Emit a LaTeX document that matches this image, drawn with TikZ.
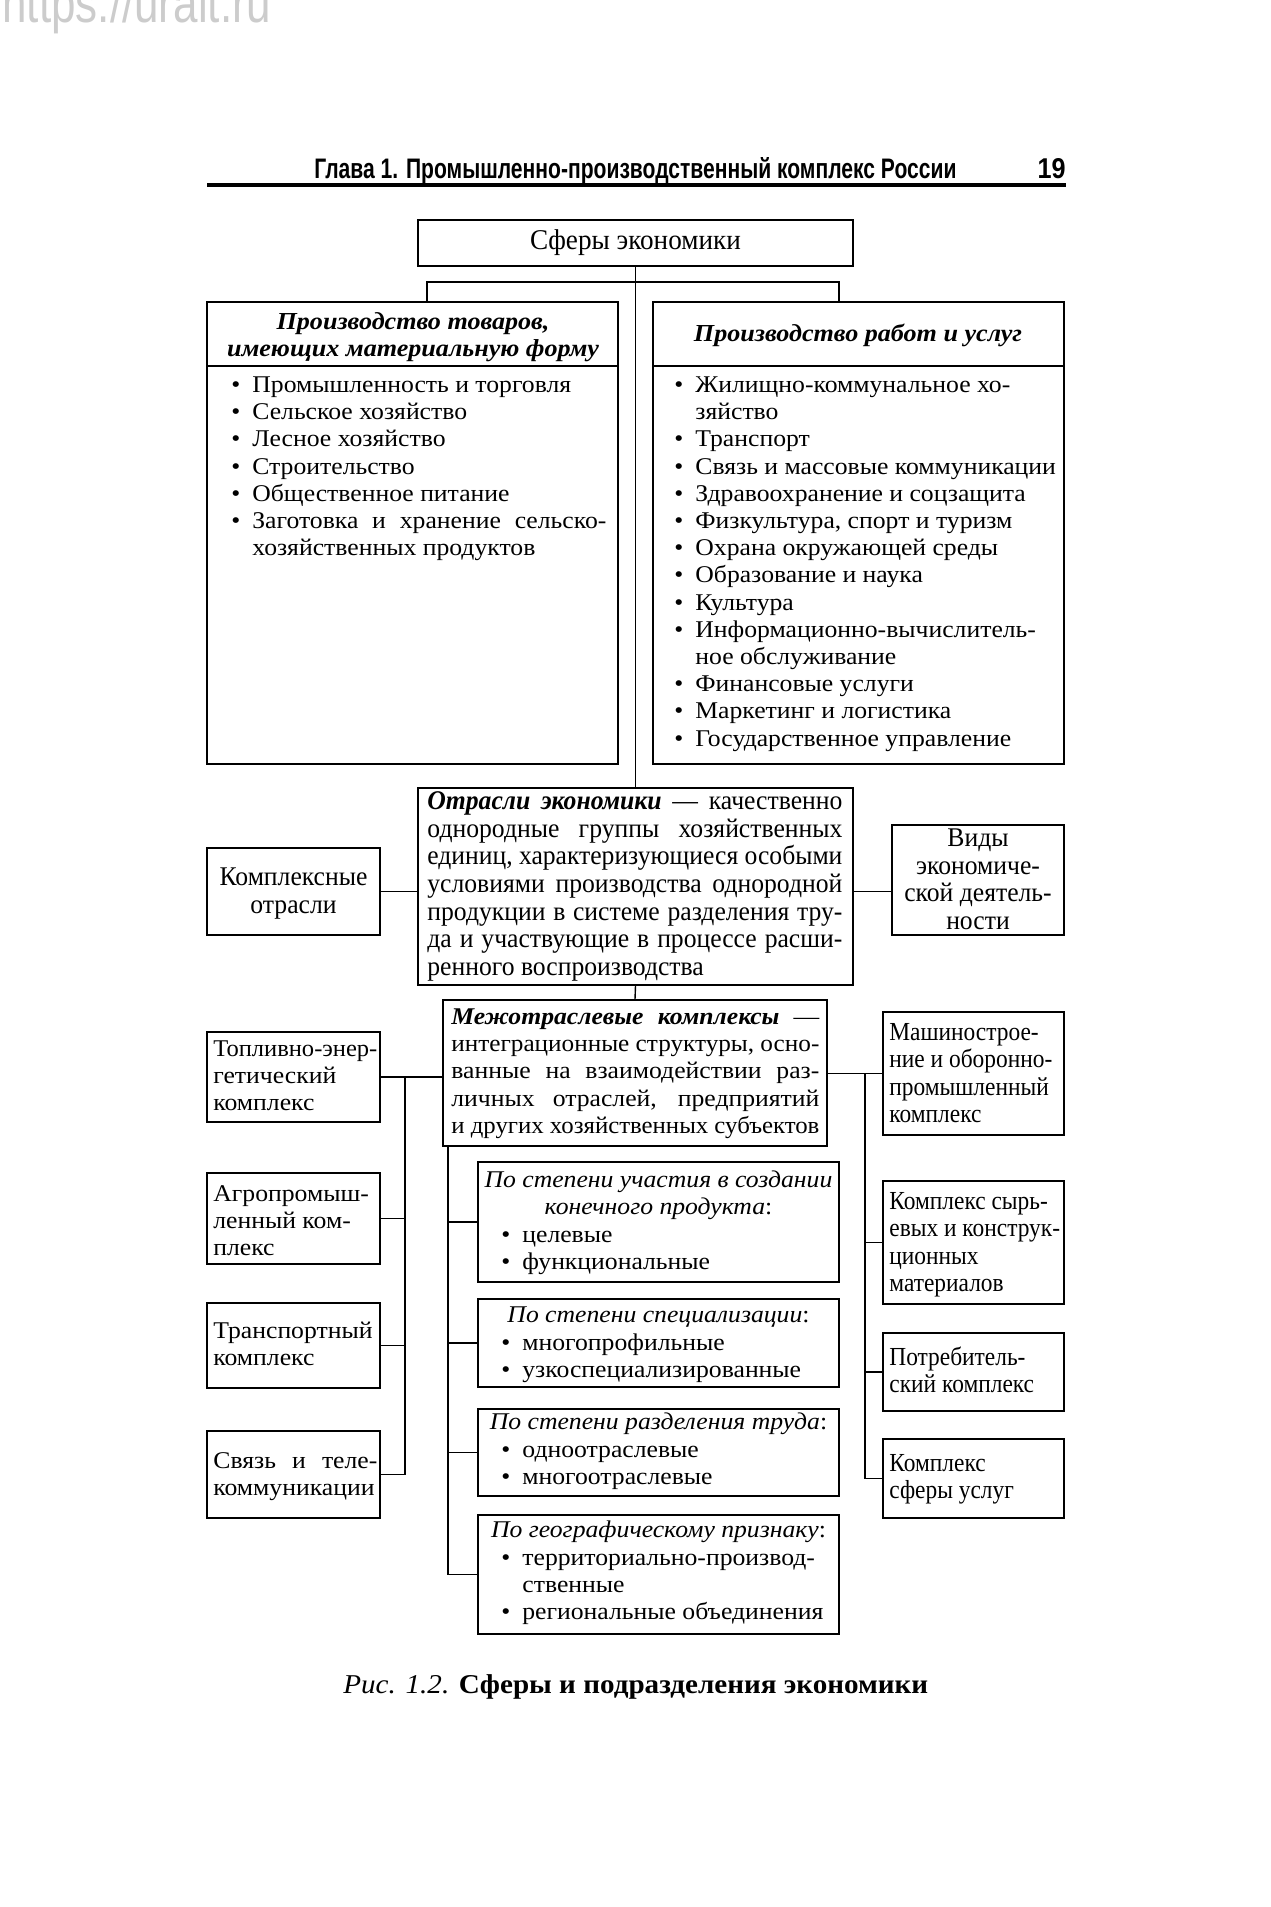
\documentclass[tikz,border=0pt]{standalone}
\usepackage{fontspec}
\usetikzlibrary{fit,calc}
\setmainfont[FakeStretch=1.07]{Liberation Serif}
\newfontfamily\condf[FakeStretch=0.95]{Liberation Serif}
\newfontfamily\condr[FakeStretch=0.9]{Liberation Serif}
\newfontfamily\hdrf[FakeStretch=0.72]{Liberation Sans}
\newfontfamily\wmf[FakeStretch=0.8]{Liberation Sans}
\newcommand\fs{\fontsize{12}{13.6}\selectfont}
\newcommand\fh{\fontsize{12.2}{13.6}\selectfont}
\newcommand\fc{\condf\fontsize{13.5}{13.8}\selectfont}
\newcommand\fr{\condr\fontsize{13}{13.7}\selectfont}
\newcommand\bl{\makebox[10.5pt][l]{•}}
\newcommand\ind{\hspace*{10.5pt}}
\newcommand\jl[2]{\sbox0{#2}\ifdim\wd0>#1\relax\resizebox{#1}{\height}{#2}\else\makebox[#1][s]{#2}\fi}
\begin{document}
\begin{tikzpicture}[x=0.5pt,y=-0.5pt,
  box/.style={draw,line width=0.75pt,inner sep=0pt},
  ln/.style={line width=0.7pt},
  tx/.style={inner sep=0pt,align=left,anchor=north west,font=\fs},
  tc/.style={inner sep=0pt,align=center,anchor=north,font=\fs},
]
\useasboundingbox (0,0) rectangle (1270,1907);
\fill[white] (0,0) rectangle (1270,1907);

% watermark and running head
\node[anchor=base west,inner sep=0pt,font=\wmf\fontsize{27.5}{28}\selectfont,text=gray!40] (wm) at (2,22) {https://urait.ru};
\node[anchor=base west,inner sep=0pt,font=\hdrf\bfseries] (hd) at (314,178) {\resizebox{321pt}{10.5pt}{Глава 1. Промышленно-производственный комплекс России}};
\node[anchor=base east,inner sep=0pt,font=\hdrf\bfseries] (pg) at (1066,178) {\resizebox{14pt}{10pt}{19}};
\draw[line width=2pt] (207,185) -- (1066,185);

% boxes
\node[box,fit={(418,220)(853,266)}] (top) {};
\node[box,fit={(207,302)(618,764)}] (L) {};
\node[box,fit={(653,302)(1064,764)}] (R) {};
\node[box,fit={(418,788)(853,985)}] (Otr) {};
\node[box,fit={(207,848)(380,935)}] (Kom) {};
\node[box,fit={(892,825)(1064,935)}] (Vid) {};
\node[box,fit={(443,1000)(827,1146)}] (Mez) {};
\node[box,fit={(207,1032)(380,1122)}] (T1) {};
\node[box,fit={(207,1173)(380,1264)}] (T2) {};
\node[box,fit={(207,1303)(380,1388)}] (T3) {};
\node[box,fit={(207,1431)(380,1518)}] (T4) {};
\node[box,fit={(883,1012)(1064,1135)}] (R1) {};
\node[box,fit={(883,1181)(1064,1304)}] (R2) {};
\node[box,fit={(883,1333)(1064,1411)}] (R3) {};
\node[box,fit={(883,1439)(1064,1518)}] (R4) {};
\node[box,fit={(478,1162)(839,1282)}] (C1) {};
\node[box,fit={(478,1299)(839,1387)}] (C2) {};
\node[box,fit={(478,1409)(839,1496)}] (C3) {};
\node[box,fit={(478,1515)(839,1634)}] (C4) {};

% header dividers
\draw[ln] (L.west |- 0,366) -- (L.east |- 0,366);
\draw[ln] (R.west |- 0,366) -- (R.east |- 0,366);

% connectors
\coordinate (jL) at (427,282);
\coordinate (jR) at (839,282);
\draw[ln] (top.south) -- (Otr.north);
\draw[ln] (L.north -| jL) -- (jL) -- (jR) -- (R.north -| jR);
\draw[ln] (Kom.east) -- (Otr.west |- Kom.east);
\draw[ln] (Otr.east |- Kom.east) -- (Vid.west |- Kom.east);
\draw[ln] (Otr.south) -- (Mez.north);
% left bus
\coordinate (bl) at (405,0);
\draw[ln] (Mez.west |- T1.east) -- (T1.east);
\draw[ln] (T1.east -| bl) -- (T4.east -| bl) -- (T4.east);
\draw[ln] (T2.east) -- (T2.east -| bl);
\draw[ln] (T3.east) -- (T3.east -| bl);
% right bus
\coordinate (br) at (865,0);
\draw[ln] (Mez.east |- R1.west) -- (R1.west);
\draw[ln] (R1.west -| br) -- (R4.west -| br) -- (R4.west);
\draw[ln] (R2.west) -- (R2.west -| br);
\draw[ln] (R3.west) -- (R3.west -| br);
% classification bus
\coordinate (bc) at (448,0);
\draw[ln] (Mez.south -| bc) -- (C4.west -| bc) -- (C4.west);
\draw[ln] (C1.west) -- (C1.west -| bc);
\draw[ln] (C2.west) -- (C2.west -| bc);
\draw[ln] (C3.west) -- (C3.west -| bc);

% texts
\node[inner sep=0pt,font=\condf\fontsize{14.3}{15}\selectfont] (topT) at (top.center) {Сферы экономики};
\node[tc,font=\fh\bfseries\itshape] (LH) at (413,310) {\strut Производство товаров,\\имеющих материальную форму};
\node[tc,font=\fh\bfseries\itshape] (RH) at (858,322) {\strut Производство работ и услуг};
\node[tx] (LT) at (231,373) {\strut\bl Промышленность и торговля\\
\bl Сельское хозяйство\\
\bl Лесное хозяйство\\
\bl Строительство\\
\bl Общественное питание\\
\bl \jl{177pt}{Заготовка и хранение сельско-}\\
\ind хозяйственных продуктов};
\node[tx] (RT) at (674,373) {\strut\bl Жилищно-коммунальное хо-\\
\ind зяйство\\
\bl Транспорт\\
\bl Связь и массовые коммуникации\\
\bl Здравоохранение и соцзащита\\
\bl Физкультура, спорт и туризм\\
\bl Охрана окружающей среды\\
\bl Образование и наука\\
\bl Культура\\
\bl Информационно-вычислитель-\\
\ind ное обслуживание\\
\bl Финансовые услуги\\
\bl Маркетинг и логистика\\
\bl Государственное управление};

\node[tx,font=\fc] (OtrT) at (427,790) {\strut\jl{207.5pt}{\textbf{\textit{Отрасли экономики}} — качественно}\\
\jl{207.5pt}{однородные группы хозяйственных}\\
\jl{207.5pt}{единиц, характеризующиеся особыми}\\
\jl{207.5pt}{условиями производства однородной}\\
\jl{207.5pt}{продукции в системе разделения тру-}\\
\jl{207.5pt}{да и участвующие в процессе расши-}\\
ренного воспроизводства};
\node[tc,font=\fc] (KomT) at (Kom.north |- 0,866) {\strut Комплексные\\отрасли};
\node[tc,font=\fc] (VidT) at (Vid.north |- 0,827) {\strut Виды\\экономиче-\\ской деятель-\\ности};

\node[tx] (MezT) at (451,1005) {\strut\jl{184pt}{\textbf{\textit{Межотраслевые комплексы}} —}\\
\jl{184pt}{интеграционные структуры, осно-}\\
\jl{184pt}{ванные на взаимодействии раз-}\\
\jl{184pt}{личных отраслей, предприятий}\\
\jl{184pt}{и других хозяйственных субъектов}};

\node[tx] (T1T) at (213,1037) {\strut\jl{82pt}{Топливно-энер-}\\гетический\\комплекс};
\node[tx] (T2T) at (213,1182) {\strut Агропромыш-\\ленный ком-\\плекс};
\node[tx] (T3T) at (213,1319) {\strut Транспортный\\комплекс};
\node[tx] (T4T) at (213,1449) {\strut\jl{82pt}{Связь и теле-}\\коммуникации};

\node[tx,font=\fr] (R1T) at (889,1021) {\strut Машинострое-\\ние и оборонно-\\промышленный\\комплекс};
\node[tx,font=\fr] (R2T) at (889,1190) {\strut Комплекс сырь-\\евых и конструк-\\ционных\\материалов};
\node[tx,font=\fr] (R3T) at (889,1346) {\strut Потребитель-\\ский комплекс};
\node[tx,font=\fr] (R4T) at (889,1452) {\strut Комплекс\\сферы услуг};

\node[tc] (C1H) at (C1.north |- 0,1168) {\strut\textit{По степени участия в создании}\\\textit{конечного продукта}:};
\node[tx] (C1T) at (501,1223) {\strut\bl целевые\\\bl функциональные};
\node[tc] (C2H) at (C2.north |- 0,1303) {\strut\textit{По степени специализации}:};
\node[tx] (C2T) at (501,1331) {\strut\bl многопрофильные\\\bl узкоспециализированные};
\node[tc] (C3H) at (C3.north |- 0,1410) {\strut\textit{По степени разделения труда}:};
\node[tx] (C3T) at (501,1438) {\strut\bl одноотраслевые\\\bl многоотраслевые};
\node[tc] (C4H) at (C4.north |- 0,1518) {\strut\textit{По географическому признаку}:};
\node[tx] (C4T) at (501,1546) {\strut\bl территориально-производ-\\\ind ственные\\\bl региональные объединения};

% caption
\node[anchor=base west,inner sep=0pt,font=\fontsize{13.6}{16}\selectfont] (cap) at (343,1693) {\textit{Рис. 1.2.} \textbf{Сферы и подразделения экономики}};
\end{tikzpicture}
\end{document}
